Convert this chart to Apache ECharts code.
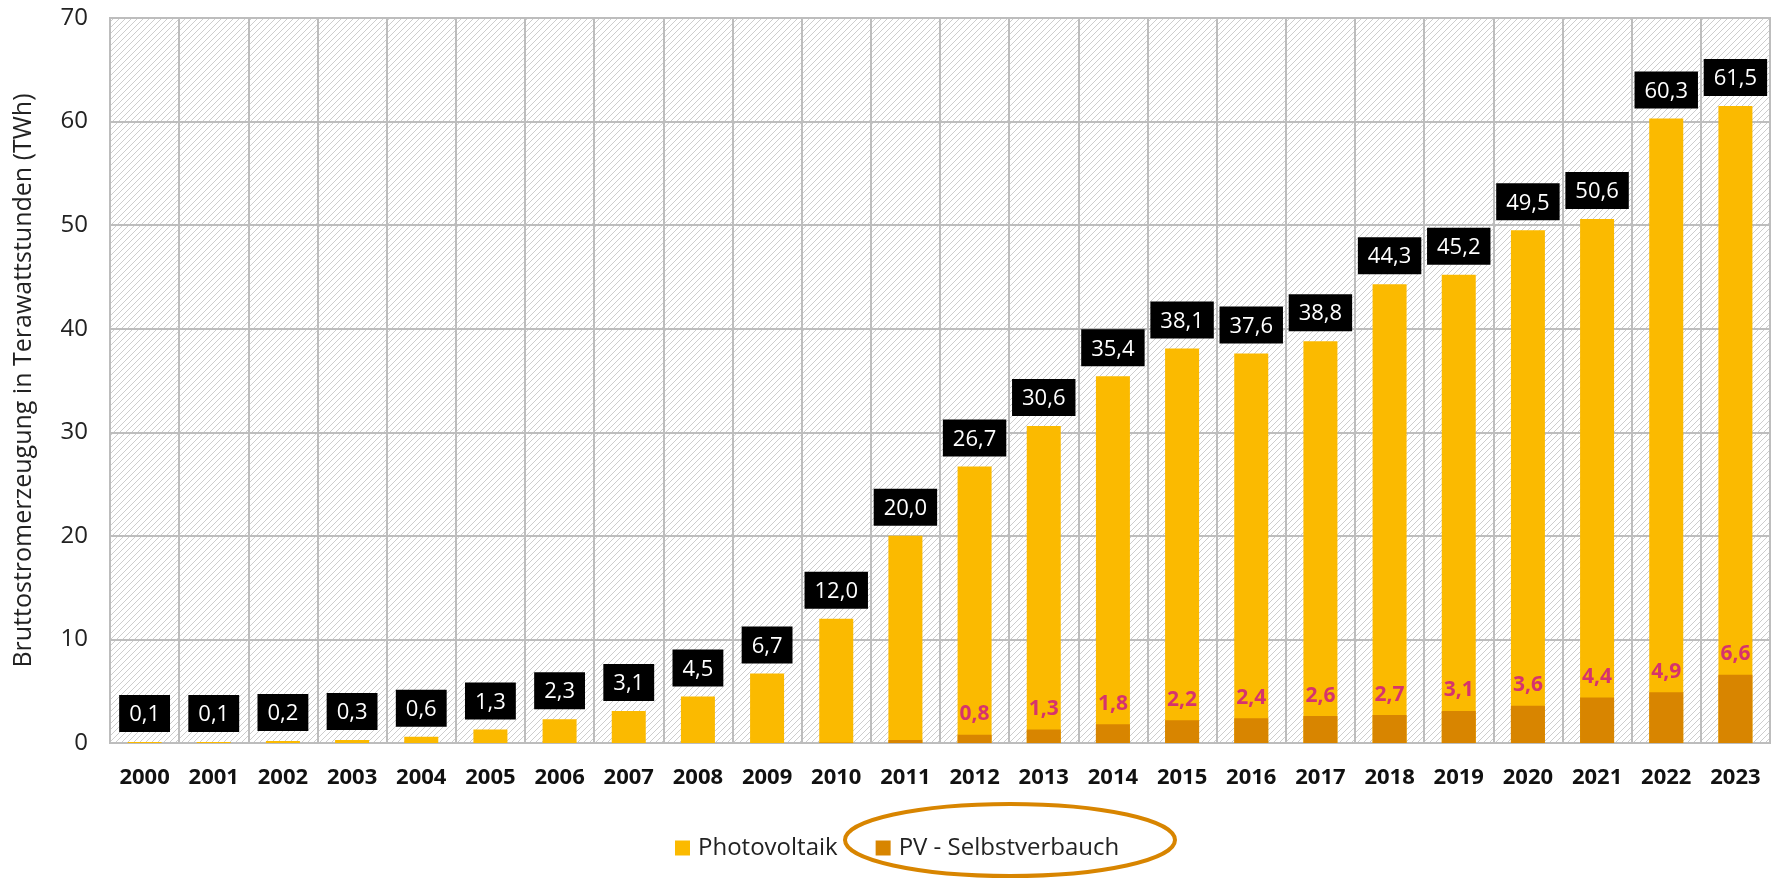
<!DOCTYPE html>
<html>
<head>
<meta charset="utf-8">
<script src="https://cdn.jsdelivr.net/npm/echarts@6/dist/echarts.min.js"></script>
<style>
html,body{margin:0;padding:0;background:#fff;}
#chart{width:1775px;height:879px;}
</style>
</head>
<body>
<div id="chart"></div>
<script>
const years = ['2000','2001','2002','2003','2004','2005','2006','2007','2008','2009','2010','2011','2012','2013','2014','2015','2016','2017','2018','2019','2020','2021','2022','2023'];
const photovoltaik = [0.1,0.1,0.2,0.3,0.6,1.3,2.3,3.1,4.5,6.7,12.0,20.0,26.7,30.6,35.4,38.1,37.6,38.8,44.3,45.2,49.5,50.6,60.3,61.5];
const selbstverbrauch = [null,null,null,null,null,null,null,null,null,null,0.05,0.3,0.8,1.3,1.8,2.2,2.4,2.6,2.7,3.1,3.6,4.4,4.9,6.6];
const selbstLabelFrom = '2012';
const yTicks = {min:0, max:70, interval:10};

const FONT = '"Open Sans", "Noto Sans", sans-serif';
function fmt(v){ return Number(v).toFixed(1).replace('.', ','); }

// hatch pattern
const tile = document.createElement('canvas');
const T = 6;
tile.width = T; tile.height = T;
const ctx = tile.getContext('2d');
ctx.fillStyle = '#ffffff';
ctx.fillRect(0,0,T,T);
ctx.strokeStyle = '#cdcdcd';
ctx.lineWidth = 1;
ctx.beginPath();
ctx.moveTo(-1, T+1); ctx.lineTo(T+1, -1);
ctx.moveTo(-1, 1); ctx.lineTo(1, -1);
ctx.moveTo(T-1, T+1); ctx.lineTo(T+1, T-1);
ctx.stroke();

const chart = echarts.init(document.getElementById('chart'));
const labelFromIdx = years.indexOf(selbstLabelFrom);

chart.setOption({
  animation: false,
  grid: {
    left: 110, right: 5, top: 18, bottom: 136,
    show: true,
    backgroundColor: {image: tile, repeat: 'repeat'},
    borderColor: '#bdbdbd', borderWidth: 2
  },
  legend: {
    top: 831, left: 670,
    itemWidth: 15, itemHeight: 15, itemGap: 38,
    icon: 'rect',
    textStyle: {fontFamily: FONT, fontSize: 24, color: '#222', padding: [0,0,0,3]},
    data: ['Photovoltaik', 'PV - Selbstverbauch']
  },
  xAxis: {
    type: 'category',
    data: years,
    axisLine: {show: true, lineStyle: {color: '#bdbdbd', width: 2}},
    axisTick: {show: false},
    splitLine: {show: true, lineStyle: {color: '#bdbdbd', width: 2}},
    axisLabel: {fontFamily: FONT, fontSize: 22, fontWeight: 'bold', color: '#111', margin: 24, interval: 0}
  },
  yAxis: {
    type: 'value',
    min: yTicks.min, max: yTicks.max, interval: yTicks.interval,
    name: 'Bruttostromerzeugung in Terawattstunden (TWh)',
    nameLocation: 'middle',
    nameGap: 74,
    nameTextStyle: {fontFamily: FONT, fontSize: 25, color: '#222'},
    axisLine: {show: false},
    axisTick: {show: false},
    splitLine: {show: true, lineStyle: {color: '#bdbdbd', width: 2}},
    axisLabel: {fontFamily: FONT, fontSize: 24, color: '#222', margin: 22}
  },
  series: [
    {
      name: 'Photovoltaik',
      type: 'bar',
      data: photovoltaik,
      barWidth: 34,
      itemStyle: {color: '#FBBA00'},
      label: {
        show: true, position: 'top', distance: 10,
        formatter: p => fmt(p.value),
        backgroundColor: '#000', color: '#fff',
        fontFamily: FONT, fontSize: 22,
        padding: [9, 10, 6, 10]
      }
    },
    {
      name: 'PV - Selbstverbauch',
      type: 'bar',
      data: selbstverbrauch,
      barWidth: 34,
      barGap: '-100%',
      itemStyle: {color: '#D88500'},
      label: {
        show: true, position: 'top', distance: 10,
        formatter: p => (p.dataIndex >= labelFromIdx && p.value != null) ? fmt(p.value) : '',
        color: '#D6336C',
        fontFamily: FONT, fontSize: 21, fontWeight: 'bold'
      }
    }
  ],
  graphic: [
    {
      type: 'ellipse',
      shape: {cx: 1010, cy: 840, rx: 165, ry: 36},
      style: {fill: 'none', stroke: '#D88500', lineWidth: 4},
      silent: true
    }
  ]
});
</script>
</body>
</html>
